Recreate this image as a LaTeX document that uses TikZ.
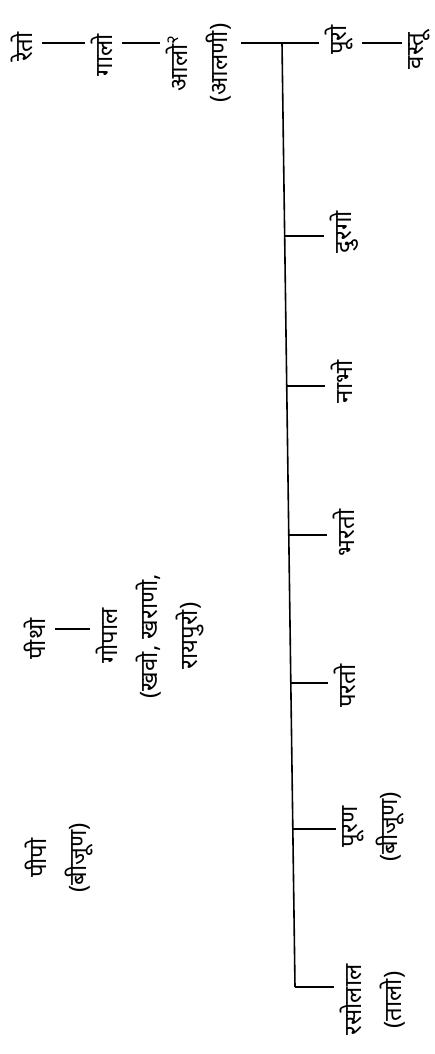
\documentclass[tikz,border=0pt]{standalone}
\usepackage{fontspec}
\newfontfamily\deva[Script=Devanagari]{Noto Sans}
\usetikzlibrary{calc}

\begin{document}
\begin{tikzpicture}[x=1pt,y=-1pt]
    \tikzstyle{person} = [rotate=90, inner sep=0pt, font=\deva\bfseries\fontsize{24}{40}\selectfont]
    \tikzstyle{couple} = [person, align=center]
    \tikzstyle{tie} = [line width=1.6pt, shorten <=9pt, shorten >=6pt]
    \tikzstyle{trunk} = [line width=1.6pt]
    \useasboundingbox (0,0) rectangle (435,1054);
    % top line of descent
    \node (reto) [person] at (22,47) {रेतो};
    \node (galo) [person] at (102,55) {गालो};
    \node (alo) [couple] at (199,63) {आलो\textsuperscript{२}\\(आलणी)};
    \node (puro) [person] at (339,40) {पूरो};
    \node (vastu) [person] at (419,51) {वस्तू};
    % sons of alo
    \node (durgo) [person] at (344,232) {दुरगो};
    \node (nabho) [person] at (342,382) {नाभो};
    \node (bharato) [person] at (344,533) {भरतो};
    \node (parato) [person] at (345,686) {परतो};
    \node (puran) [couple] at (373,827) {पूरण\\(बीजूण)};
    \node (rasolal) [couple] at (373,1000) {रसोलाल\\(तालो)};
    % left side
    \node (pitho) [person] at (35,639) {पीथो};
    \node (gopal) [couple] at (150,636) {गोपाल\\(खवो, खराणो,\\रायपुरो)};
    \node (pipo) [couple] at (59,858) {पीपो\\(बीजूण)};
    \coordinate (row) at (0,43);
    \coordinate (top) at (282,43);
    \coordinate (bot) at (295,987);
    \coordinate (b1) at (284.7,236);
    \coordinate (b2) at (286.7,386);
    \coordinate (b3) at (288.8,535);
    \coordinate (b4) at (290.8,683);
    \coordinate (b5) at (292.8,829);
    \draw [tie] (reto.south |- row) -- (galo.north |- row);
    \draw [tie] (galo.south |- row) -- (alo.north |- row);
    \draw [tie, shorten >=0pt] (alo.south |- row) -- (top);
    \draw [tie, shorten <=0pt] (top) -- (puro.north |- row);
    \draw [tie] (puro.south |- row) -- (vastu.north |- row);
    \draw [trunk] (top) -- (bot);
    \draw [tie, shorten <=0pt] (b1) -- (b1 -| durgo.north);
    \draw [tie, shorten <=0pt] (b2) -- (b2 -| nabho.north);
    \draw [tie, shorten <=0pt] (b3) -- (b3 -| bharato.north);
    \draw [tie, shorten <=0pt] (b4) -- (b4 -| parato.north);
    \draw [tie, shorten <=0pt] (b5) -- (b5 -| puran.north);
    \draw [tie, shorten <=0pt] (bot) -- (bot -| rasolal.north);
    \draw [tie] (pitho.south |- 0,629) -- (gopal.north |- 0,629);
\end{tikzpicture}
\end{document}
